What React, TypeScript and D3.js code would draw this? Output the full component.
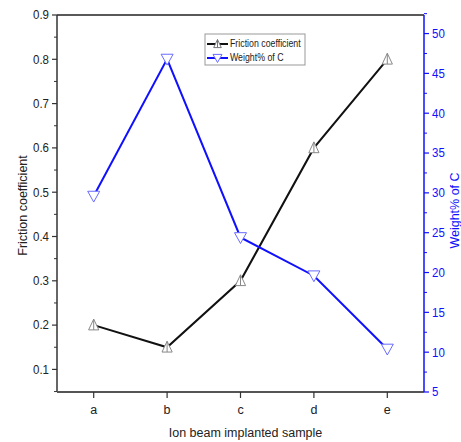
import React from "react";
import * as d3 from "d3";

const samples = ["a", "b", "c", "d", "e"];
const friction = [0.2, 0.15, 0.3, 0.6, 0.8];
const weightC = [29.6, 46.8, 24.4, 19.6, 10.4];
const leftTicks = [0.1, 0.2, 0.3, 0.4, 0.5, 0.6, 0.7, 0.8, 0.9];
const leftMinor = [0.05, 0.15, 0.25, 0.35, 0.45, 0.55, 0.65, 0.75, 0.85];
const rightTicks = [5, 10, 15, 20, 25, 30, 35, 40, 45, 50];
const rightMinor = [7.5, 12.5, 17.5, 22.5, 27.5, 32.5, 37.5, 42.5, 47.5, 52.5];

const W = 461, H = 442;
const L = 57, R = 424, T = 15, B = 392;
const FONT = "'Liberation Sans', Arial, sans-serif";
const BLUE = "#1010ff";

export default function App() {
  const x = d3.scalePoint<string>().domain(samples).range([L, R]).padding(0.5);
  const yL = d3.scaleLinear().domain([0.049, 0.9]).range([B, T]);
  const yR = d3.scaleLinear().domain([5, 52.33]).range([B, T]);

  const lineF = d3.line<number>().x((_, i) => x(samples[i])!).y((d) => yL(d));
  const lineW = d3.line<number>().x((_, i) => x(samples[i])!).y((d) => yR(d));

  const up = (cx: number, cy: number, s = 6) =>
    `M${cx},${cy - s}L${cx + s * 0.85},${cy + s * 0.8}L${cx - s * 0.85},${cy + s * 0.8}Z M${cx},${cy - s}L${cx},${cy + s * 0.8}`;
  const down = (cx: number, cy: number, s = 6) =>
    `M${cx},${cy + s}L${cx + s},${cy - s * 0.8}L${cx - s},${cy - s * 0.8}Z`;

  return (
    <svg width={W} height={H} style={{ position: "absolute", left: 0, top: 0, background: "#fff" }} fontFamily={FONT}>
      <rect x={0} y={0} width={W} height={H} fill="#fff" />
      {/* frame */}
      <line x1={L} y1={T} x2={R} y2={T} stroke="#222" strokeWidth={1.5} />
      <line x1={L} y1={T} x2={L} y2={B} stroke="#333" strokeWidth={1.5} />
      <line x1={L} y1={B} x2={R} y2={B} stroke="#555" strokeWidth={2} />
      <line x1={R} y1={T} x2={R} y2={B} stroke={BLUE} strokeWidth={1.5} />

      {/* left axis */}
      {leftTicks.map((t) => (
        <g key={"l" + t}>
          <line x1={L - 5} x2={L} y1={yL(t)} y2={yL(t)} stroke="#333" strokeWidth={1.2} />
          <text x={L - 8} y={yL(t)} dy="0.35em" textAnchor="end" fontSize={12.5} fill="#222" transform={`translate(${L - 8},0) scale(0.92,1) translate(${-(L - 8)},0)`}>
            {t.toFixed(1)}
          </text>
        </g>
      ))}
      {leftMinor.map((t) => (
        <line key={"lm" + t} x1={L - 3} x2={L} y1={yL(t)} y2={yL(t)} stroke="#333" strokeWidth={1} />
      ))}

      {/* right axis */}
      {rightTicks.map((t) => (
        <g key={"r" + t}>
          <line x1={R} x2={R + 5} y1={yR(t)} y2={yR(t)} stroke={BLUE} strokeWidth={1.2} />
          <text x={R + 8} y={yR(t)} dy="0.35em" textAnchor="start" fontSize={12.5} fill={BLUE} transform={`translate(${R + 8},0) scale(0.92,1) translate(${-(R + 8)},0)`}>
            {t}
          </text>
        </g>
      ))}
      {rightMinor.map((t) => (
        <line key={"rm" + t} x1={R} x2={R + 3} y1={yR(t)} y2={yR(t)} stroke={BLUE} strokeWidth={1} />
      ))}

      {/* bottom axis */}
      {samples.map((s) => (
        <g key={"b" + s}>
          <line x1={x(s)!} x2={x(s)!} y1={B} y2={B + 6} stroke="#333" strokeWidth={1.2} />
          <text x={x(s)!} y={B + 22} textAnchor="middle" fontSize={12.5} fill="#222">
            {s}
          </text>
        </g>
      ))}

      {/* axis titles */}
      <text x={(L + R) / 2 + 5} y={437} textAnchor="middle" fontSize={12.5} fill="#222">
        Ion beam implanted sample
      </text>
      <text transform={`translate(27,${(T + B) / 2 + 2}) rotate(-90)`} textAnchor="middle" fontSize={12.5} fill="#222">
        Friction coefficient
      </text>
      <text transform={`translate(459,${(T + B) / 2 + 7}) rotate(-90)`} textAnchor="middle" fontSize={12.5} fill={BLUE}>
        Weight% of C
      </text>

      {/* lines */}
      <path d={lineF(friction)!} fill="none" stroke="#111" strokeWidth={2} />
      <path d={lineW(weightC)!} fill="none" stroke={BLUE} strokeWidth={2} />
      {friction.map((v, i) => (
        <path key={"mf" + i} d={up(x(samples[i])!, yL(v))} fill="#fff" stroke="#888" strokeWidth={1} />
      ))}
      {weightC.map((v, i) => (
        <path key={"mw" + i} d={down(x(samples[i])!, yR(v))} fill="#fff" stroke="#6a6aff" strokeWidth={1} />
      ))}

      {/* legend */}
      <rect x={205} y={34} width={100} height={31} fill="#fff" stroke="#999" strokeWidth={1} />
      <line x1={207} x2={228} y1={44} y2={44} stroke="#111" strokeWidth={2} />
      <path d={up(217.5, 44, 4.5)} fill="#fff" stroke="#777" strokeWidth={1} />
      <text x={230} y={44} dy="0.35em" fontSize={10} fill="#222" transform="translate(230,0) scale(0.88,1) translate(-230,0)">
        Friction coefficient
      </text>
      <line x1={207} x2={228} y1={58} y2={58} stroke={BLUE} strokeWidth={2} />
      <path d={down(217.5, 58, 4.5)} fill="#fff" stroke="#6a6aff" strokeWidth={1} />
      <text x={230} y={58} dy="0.35em" fontSize={10} fill="#222" transform="translate(230,0) scale(0.88,1) translate(-230,0)">
        Weight% of C
      </text>
    </svg>
  );
}
